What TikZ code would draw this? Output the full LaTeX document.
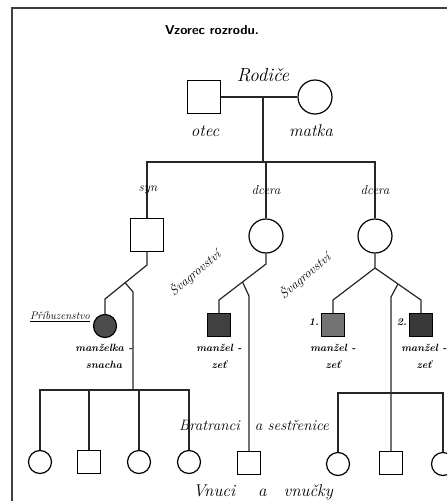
\documentclass[tikz,border=0pt]{standalone}
\usepackage{tikz}
\usetikzlibrary{calc}

\begin{document}
\begin{tikzpicture}[x=1pt, y=-1pt,
    line/.style={line width=1.2pt, black!85},
    male/.style={rectangle, draw, line width=1.2pt, minimum size=33pt, inner sep=0pt},
    female/.style={circle, draw, line width=1.2pt, minimum size=34pt, inner sep=0pt},
    smale/.style={rectangle, draw, line width=1.2pt, minimum size=23pt, inner sep=0pt},
    sfemale/.style={circle, draw, line width=1.2pt, minimum size=23pt, inner sep=0pt},
    hand/.style={font=\fontsize{17}{18}\selectfont\itshape, inner sep=0pt},
    small/.style={font=\fontsize{13}{14}\selectfont\itshape, inner sep=0pt},
    note/.style={font=\fontsize{10.5}{17}\selectfont\bfseries\itshape, align=center, inner sep=0pt}]

  \useasboundingbox (0,0) rectangle (447,501);
  \clip (0,0) rectangle (447,501);
  \draw[line width=2pt, black!75] (12,501) -- (12,8) -- (447,8);

  \node[font=\fontsize{13}{14}\selectfont\sffamily\bfseries] (title) at (212,30) {Vzorec rozrodu.};

  % rodice
  \node[hand, font=\fontsize{19}{20}\selectfont\itshape] (rodice) at (263,75) {Rodiče};
  \node[male]   (otec)  at (204,97) {};
  \node[female] (matka) at (315,97) {};
  \node[hand] (lotec)  at (205,131) {otec};
  \node[hand] (lmatka) at (311,131) {matka};
  \coordinate (rod) at (263,97);
  \coordinate (sib) at (263,162);
  \draw[line] (otec) -- (matka);
  \draw[line] (rod) -- (sib);

  % deti
  \node[male]   (syn)    at (147,235) {};
  \node[female] (dcera)  at (266,236) {};
  \node[female] (dcerb)  at (375,236) {};
  \draw[line] (syn.north) |- (sib) -| (dcerb.north);
  \draw[line] (dcera.north) -- (dcera.north |- sib);
  \node[small] (lsyn)   at (148,190) {syn};
  \node[small] (ldcera) at (266,190) {dcera};
  \node[small] (ldcerb) at (375,190) {dcera};

  % manzele
  \node[sfemale, fill=black!70] (snacha) at (105,326) {};
  \node[smale, fill=black!75]   (zet)    at (219,325) {};
  \node[smale, fill=black!55]   (zeta)   at (333,325) {};
  \node[smale, fill=black!78]   (zetb)   at (421,325) {};
  \node[note] (lsnacha) at (104,356) {manželka -\\snacha};
  \node[note] (lzet)    at (219,356) {manžel -\\zeť};
  \node[note] (lzeta)   at (333,356) {manžel -\\zeť};
  \node[note] (lzetb)   at (424,356) {manžel -\\zeť};
  \node[note, anchor=east] (one) at (319,322) {1.};
  \node[note, anchor=east] (two) at (407,322) {2.};
  \node[small, font=\fontsize{11}{12}\selectfont\itshape, anchor=east] (pribuz) at (90,317) {\underline{Příbuzenstvo}};
  \node[small, rotate=40] (svag)  at (195,273) {Švagrovství};
  \node[small, rotate=40] (svagb) at (305,276) {Švagrovství};

  % vnuci
  \node[sfemale] (va) at (40,462)  {};
  \node[smale]   (vb) at (89,462)  {};
  \node[sfemale] (vc) at (139,462) {};
  \node[sfemale] (vd) at (189,462) {};
  \node[smale]   (ve) at (249,463) {};
  \node[sfemale] (vf) at (338,464) {};
  \node[smale]   (vg) at (391,463) {};
  \node[sfemale] (vh) at (443,464) {};

  \coordinate (sa) at (147,265);
  \coordinate (sb) at (105,299);
  \coordinate (sk) at ($(sa)!0.52!(sb)$);
  \coordinate (skb) at (133,292);
  \coordinate (sbar) at (133,390);
  \draw[line] (syn.south) -- (sa) -- (sb) -- (snacha.north);
  \draw[line] (sk) -- (skb) -- (sbar);
  \draw[line] (va.north) |- (sbar) -| (vd.north);
  \draw[line] (vb.north) -- (vb.north |- sbar);
  \draw[line] (vc.north) -- (vc.north |- sbar);

  \coordinate (ma) at (266,264);
  \coordinate (mb) at (219,300);
  \coordinate (mk) at ($(ma)!0.5!(mb)$);
  \coordinate (mkb) at (249,296);
  \draw[line] (dcera.south) -- (ma) -- (mb) -- (zet.north);
  \draw[line] (mk) -- (mkb) -- (ve.north);

  \coordinate (ra) at (375,268);
  \coordinate (rb) at (333,300);
  \coordinate (rc) at (421,300);
  \coordinate (rk) at ($(ra)!0.5!(rc)$);
  \coordinate (rkb) at (391,297);
  \coordinate (rbar) at (391,393);
  \draw[line] (dcerb.south) -- (ra) -- (rb) -- (zeta.north);
  \draw[line] (ra) -- (rc) -- (zetb.north);
  \draw[line] (rk) -- (rkb) -- (vg.north);
  \draw[line] (vf.north) |- (rbar) -| (vh.north);

  \node[hand, font=\fontsize{15}{16}\selectfont\itshape] (bratr) at (254,425) {Bratranci\quad a\ sestřenice};
  \node[hand] (vnuci) at (263,492) {Vnuci\quad\ a\quad vnučky};
\end{tikzpicture}
\end{document}
